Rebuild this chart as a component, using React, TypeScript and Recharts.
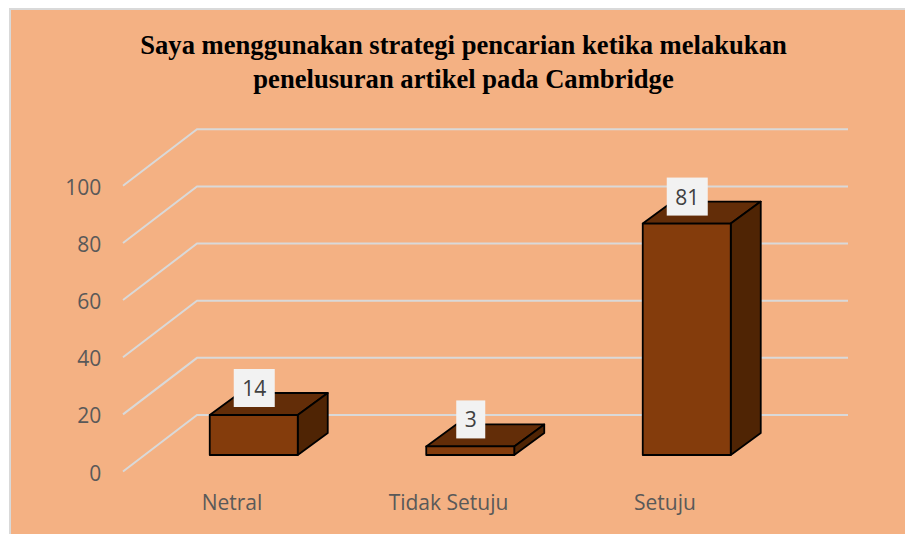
import React from 'react';
import { BarChart, Bar, XAxis, YAxis, CartesianGrid } from 'recharts';

const categories = ['Netral', 'Tidak Setuju', 'Setuju'];
const values = [14, 3, 81];
const yTicks = [0, 20, 40, 60, 80, 100];

const data = categories.map((name, i) => ({ name, value: values[i] }));

// 3D look: the bars stand in the middle of the floor, the walls are behind them
const DEPTH_X = 30;
const DEPTH_Y = 22;
const FRONT_DX = 22.75; // floor front edge relative to plot left
const FRONT_DY = 16.5;
const BACK_DX = 51.25;
const BACK_DY = 40;
const BACK_RIGHT = 52.75;
const PLOT_LEFT = 145.75;

const Bar3D = (props: any) => {
  const { x, y, width, height } = props;
  const r = x + width;
  const b = y + height;
  return (
    <g stroke="#000" strokeWidth={1.8} strokeLinejoin="round">
      <path d={`M${x},${y} L${x + DEPTH_X},${y - DEPTH_Y} L${r + DEPTH_X},${y - DEPTH_Y} L${r},${y} Z`} fill="#632D08" />
      <path d={`M${r},${y} L${r + DEPTH_X},${y - DEPTH_Y} L${r + DEPTH_X},${b - DEPTH_Y} L${r},${b} Z`} fill="#4F2404" />
      <rect x={x} y={y} width={width} height={height} fill="#843C0C" />
    </g>
  );
};

const DataLabel = (props: any) => {
  const { x, y, width, value } = props;
  const w = String(value).length * 12 + 17;
  const cx = x + width / 2 + 0.5;
  return (
    <g>
      <rect x={cx - w / 2} y={y - 46} width={w} height={38} fill="#F2F2F2" />
      <text x={cx} y={y - 27} textAnchor="middle" dominantBaseline="central" fontFamily="Open Sans" fontSize={21} fill="#404040">
        {value}
      </text>
    </g>
  );
};

const GridLine = (props: any) => {
  const { y1, x2 } = props;
  const backY = y1 - BACK_DY;
  const frontY = y1 + FRONT_DY;
  return (
    <path
      key={y1}
      d={`M${PLOT_LEFT - FRONT_DX},${frontY} L${PLOT_LEFT + BACK_DX},${backY} L${x2 + BACK_RIGHT},${backY}`}
      fill="none"
      stroke="#D9D9D9"
      strokeWidth={2}
    />
  );
};

const YTick = (props: any) => {
  const { x, y, payload } = props;
  return (
    <text x={x - 36.5} y={y + FRONT_DY + 1} textAnchor="end" dominantBaseline="central" fontFamily="Open Sans" fontSize={21} fill="#595959">
      {payload.value}
    </text>
  );
};

const XTick = (props: any) => {
  const { x, y, payload } = props;
  return (
    <text x={x - 22} y={y + 39} textAnchor="middle" dominantBaseline="central" fontFamily="Open Sans" fontSize={21} fill="#595959">
      {payload.value}
    </text>
  );
};

export default function App() {
  return (
    <div style={{ position: 'absolute', left: 0, top: 0, width: 905, height: 534, background: '#fff', overflow: 'hidden' }}>
      <div
        style={{
          position: 'absolute',
          left: 9,
          top: 8,
          width: 896,
          height: 526,
          background: '#F4B183',
          borderLeft: '2px solid #D9D9D9',
          borderTop: '2px solid #D9D9D9',
          boxSizing: 'border-box',
        }}
      />
      <div
        style={{
          position: 'absolute',
          left: 0,
          top: 28,
          width: 927,
          textAlign: 'center',
          fontFamily: 'Liberation Serif',
          fontWeight: 'bold',
          fontSize: 26.6,
          lineHeight: '34px',
          color: '#000',
        }}
      >
        Saya menggunakan strategi pencarian ketika melakukan
        <br />
        penelusuran artikel pada Cambridge
      </div>
      <div style={{ position: 'absolute', left: 0, top: 0 }}>
        <BarChart
          width={905}
          height={534}
          data={data}
          margin={{ top: 169.3, right: 109.75, bottom: 19, left: 0 }}
          barSize={88}
        >
          <CartesianGrid vertical={false} horizontal={GridLine as any} />
          <XAxis dataKey="name" axisLine={false} tickLine={false} tick={XTick} height={60} />
          <YAxis
            domain={[0, 100]}
            ticks={yTicks}
            width={PLOT_LEFT}
            axisLine={false}
            tickLine={false}
            tick={YTick}
          />
          <Bar dataKey="value" shape={Bar3D} label={DataLabel} isAnimationActive={false} />
        </BarChart>
      </div>
    </div>
  );
}
